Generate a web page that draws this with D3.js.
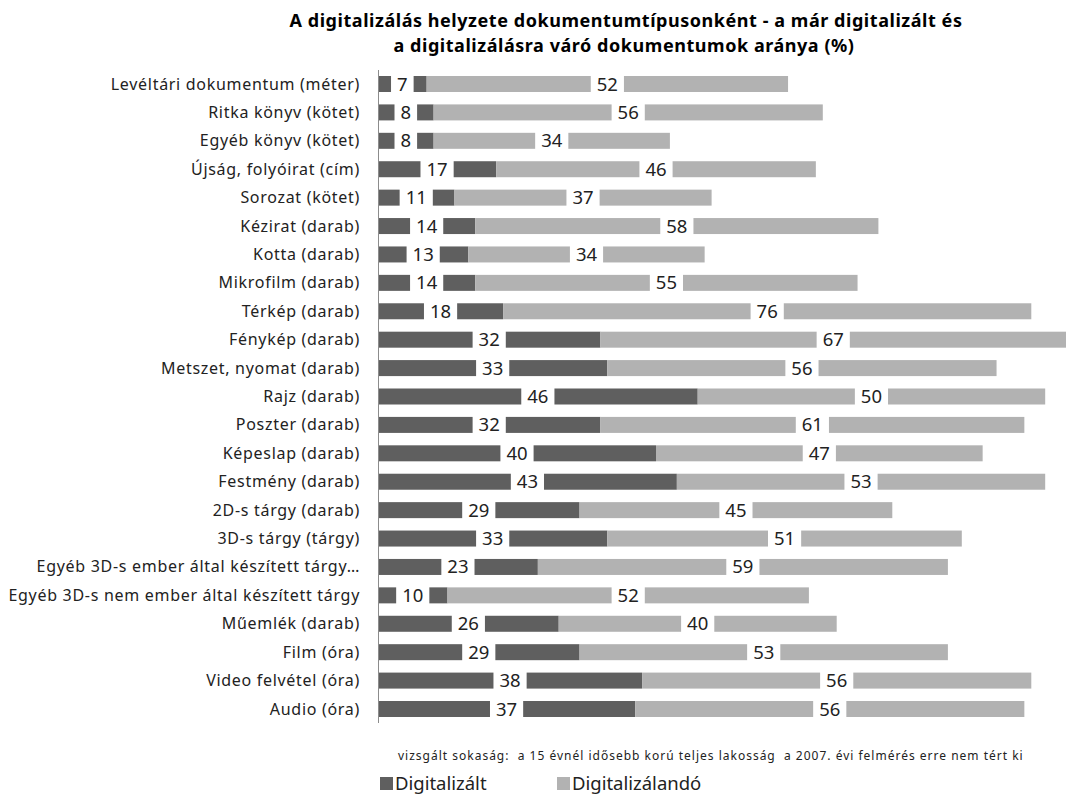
<!DOCTYPE html>
<html>
<head>
<meta charset="utf-8">
<script src="https://cdn.jsdelivr.net/npm/d3@7"></script>
<style>
  body { margin: 0; background: #fff; }
  svg { display: block; font-family: "Noto Sans", sans-serif; }
</style>
</head>
<body>
<svg id="chart" width="1066" height="795"></svg>
<script>
// kategóriák és értékek (%)
var categories = [
    'Levéltári dokumentum (méter)', 'Ritka könyv (kötet)', 'Egyéb könyv (kötet)',
    'Újság, folyóirat (cím)', 'Sorozat (kötet)', 'Kézirat (darab)', 'Kotta (darab)',
    'Mikrofilm (darab)', 'Térkép (darab)', 'Fénykép (darab)', 'Metszet, nyomat (darab)',
    'Rajz (darab)', 'Poszter (darab)', 'Képeslap (darab)', 'Festmény (darab)',
    '2D-s tárgy (darab)', '3D-s tárgy (tárgy)', 'Egyéb 3D-s ember által készített tárgy…',
    'Egyéb 3D-s nem ember által készített tárgy', 'Műemlék (darab)', 'Film (óra)',
    'Video felvétel (óra)', 'Audio (óra)'
];
var digitalizalt = [7, 8, 8, 17, 11, 14, 13, 14, 18, 32, 33, 46, 32, 40, 43, 29, 33, 23, 10, 26, 29, 38, 37];
var digitalizalando = [52, 56, 34, 46, 37, 58, 34, 55, 76, 67, 56, 50, 61, 47, 53, 45, 51, 59, 52, 40, 53, 56, 56];
var seriesNames = ['Digitalizált', 'Digitalizálandó'];
var colors = ['#5f5f5f', '#b2b2b2'];

var svg = d3.select('#chart');
var barH = 16;

var x = d3.scaleLinear().domain([0, 100]).range([378, 1073]);
var y = d3.scalePoint().domain(categories).range([84, 709]);

var rows = categories.map(function (c, i) {
    return { cat: c, vals: [digitalizalt[i], digitalizalando[i]] };
});

// cím
var title = svg.append('text')
    .attr('text-anchor', 'middle')
    .attr('font-weight', 'bold')
    .attr('font-size', 18)
    .attr('letter-spacing', 0.55)
    .attr('fill', '#000');
title.append('tspan').attr('x', 626).attr('y', 27)
    .text('A digitalizálás helyzete dokumentumtípusonként - a már digitalizált és');
title.append('tspan').attr('x', 624).attr('y', 52)
    .text('a digitalizálásra váró dokumentumok aránya (%)');

// sávok
var g = svg.append('g');
rows.forEach(function (r) {
    var start = 0;
    r.vals.forEach(function (v, j) {
        g.append('rect')
            .attr('x', x(start))
            .attr('y', y(r.cat) - barH / 2)
            .attr('width', x(start + v) - x(start))
            .attr('height', barH)
            .attr('fill', colors[j]);
        start += v;
    });
});

// tengely
svg.append('line')
    .attr('x1', 378.5).attr('x2', 378.5)
    .attr('y1', 70).attr('y2', 723)
    .attr('stroke', '#8c8c8c');

// kategória feliratok
svg.append('g').selectAll('text')
    .data(categories)
    .enter().append('text')
    .attr('x', 360)
    .attr('y', function (d) { return y(d) + 5.5; })
    .attr('text-anchor', 'end')
    .attr('font-size', 16)
    .attr('letter-spacing', 0.7)
    .attr('fill', '#222')
    .text(function (d) { return d; });

// értékfeliratok fehér háttérrel
var lg = svg.append('g');
rows.forEach(function (r) {
    var start = 0;
    r.vals.forEach(function (v) {
        var cx = x(start + v / 2);
        var cy = y(r.cat);
        var box = lg.append('rect').attr('fill', '#fff');
        var t = lg.append('text')
            .attr('x', cx)
            .attr('y', cy + 6.5)
            .attr('text-anchor', 'middle')
            .attr('font-size', 18.5)
            .attr('fill', '#222')
            .text(v);
        var w = t.node().getComputedTextLength();
        box.attr('x', cx - w / 2 - 6).attr('y', cy - barH / 2 - 1)
            .attr('width', w + 12).attr('height', barH + 2);
        start += v;
    });
});

// lábjegyzet
svg.append('text')
    .attr('x', 398).attr('y', 760)
    .attr('font-size', 12)
    .attr('letter-spacing', 1.0)
    .style('white-space', 'pre')
    .attr('fill', '#222')
    .text('vizsgált sokaság:  a 15 évnél idősebb korú teljes lakosság  a 2007. évi felmérés erre nem tért ki');

// jelmagyarázat
var legendX = [380, 557];
seriesNames.forEach(function (s, i) {
    svg.append('rect')
        .attr('x', legendX[i]).attr('y', 777)
        .attr('width', 13).attr('height', 13)
        .attr('fill', colors[i]);
    svg.append('text')
        .attr('x', legendX[i] + 15).attr('y', 790)
        .attr('font-size', 18.5)
        .attr('fill', '#222')
        .text(s);
});
</script>
</body>
</html>
